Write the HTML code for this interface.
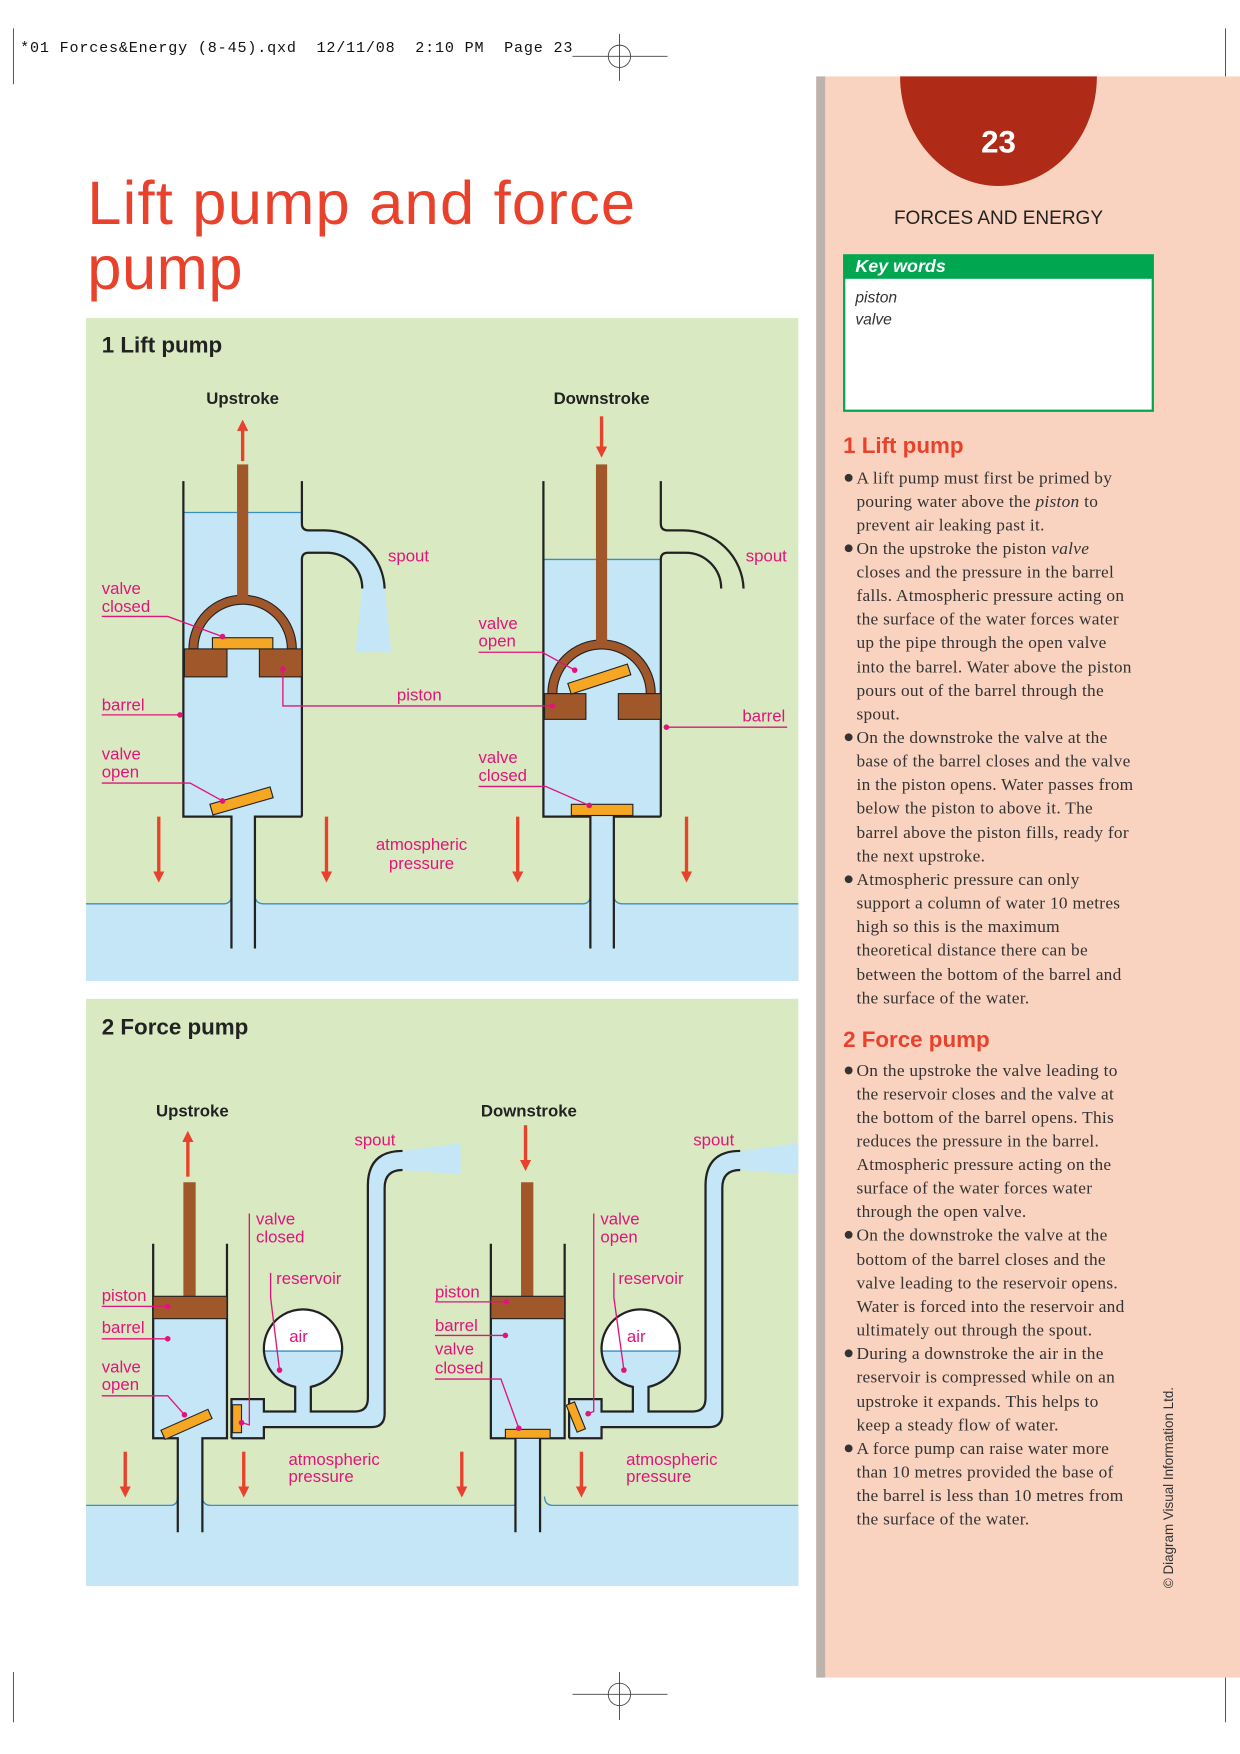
<!DOCTYPE html>
<html><head><meta charset="utf-8"><style>
html,body{margin:0;padding:0;background:#fff}
svg{display:block}
.lab{font-family:"Liberation Sans Narrow","Liberation Sans",sans-serif;font-size:15px;fill:#e0157a}
.hd{font-family:"Liberation Sans Narrow","Liberation Sans",sans-serif;font-size:15px;font-weight:bold;fill:#222}
.bt{font-family:"Liberation Serif",serif;font-size:15.5px;fill:#333;letter-spacing:0.25px}
</style></head><body>
<svg width="1240" height="1754" viewBox="0 0 1109 1568" xmlns="http://www.w3.org/2000/svg">
<defs>
<marker id="ah" markerWidth="10" markerHeight="10" refX="5" refY="5" orient="auto" markerUnits="userSpaceOnUse" viewBox="0 0 10 10"><path d="M0,0 L10,5 L0,10 z" fill="#e8412c"/></marker>
<clipPath id="p2"><rect x="77" y="893" width="637" height="525"/></clipPath>
</defs>
<text x="18" y="46" font-family="Liberation Mono,monospace" font-size="13.5" fill="#111" xml:space="preserve" style="white-space:pre" textLength="494" lengthAdjust="spacing">*01 Forces&amp;Energy (8-45).qxd  12/11/08  2:10 PM  Page 23</text>
<g stroke="#444" stroke-width="0.8" fill="none">
<line x1="12" y1="25" x2="12" y2="75"/><circle cx="554" cy="50" r="10"/><line x1="512" y1="50" x2="597" y2="50"/><line x1="554" y1="30" x2="554" y2="72"/>
<line x1="1096" y1="25" x2="1096" y2="75"/>
<line x1="12" y1="1495" x2="12" y2="1540"/><circle cx="554" cy="1515" r="10"/><line x1="512" y1="1515" x2="597" y2="1515"/><line x1="554" y1="1495" x2="554" y2="1538"/>
<line x1="1096" y1="1495" x2="1096" y2="1540"/>
</g>
<rect x="730" y="68" width="379" height="1432" fill="#f9d3bf"/>
<rect x="730" y="68" width="8" height="1432" fill="#bdb3ad"/>
<path d="M805,68 A88,98 0 0 0 981,68 Z" fill="#b02a18"/>
<text x="893" y="136" text-anchor="middle" font-family="Liberation Sans,sans-serif" font-weight="bold" font-size="28" fill="#fff">23</text>
<text x="893" y="200" text-anchor="middle" font-family="Liberation Sans Narrow,Liberation Sans,sans-serif" font-size="17" fill="#222">FORCES AND ENERGY</text>
<rect x="755" y="228" width="276" height="139" fill="#fff" stroke="#00a650" stroke-width="2"/>
<rect x="755" y="228" width="276" height="21" fill="#00a650"/>
<text x="765" y="243" font-family="Liberation Sans,sans-serif" font-style="italic" font-weight="bold" font-size="16" fill="#fff">Key words</text>
<text x="765" y="270" font-family="Liberation Sans,sans-serif" font-style="italic" font-size="14" fill="#333">piston</text>
<text x="765" y="290" font-family="Liberation Sans,sans-serif" font-style="italic" font-size="14" fill="#333">valve</text>
<text x="754" y="405" font-family="Liberation Sans,sans-serif" font-weight="bold" font-size="20" fill="#e8412c">1 Lift pump</text>
<g class="bt">
<text x="766" y="432">A lift pump must first be primed by</text>
<text x="766" y="453">pouring water above the <tspan font-style="italic">piston</tspan> to</text>
<text x="766" y="474">prevent air leaking past it.</text>
<text x="766" y="495">On the upstroke the piston <tspan font-style="italic">valve</tspan></text>
<text x="766" y="516">closes and the pressure in the barrel</text>
<text x="766" y="537">falls. Atmospheric pressure acting on</text>
<text x="766" y="558">the surface of the water forces water</text>
<text x="766" y="579">up the pipe through the open valve</text>
<text x="766" y="601">into the barrel. Water above the piston</text>
<text x="766" y="622">pours out of the barrel through the</text>
<text x="766" y="643">spout.</text>
<text x="766" y="664">On the downstroke the valve at the</text>
<text x="766" y="685">base of the barrel closes and the valve</text>
<text x="766" y="706">in the piston opens. Water passes from</text>
<text x="766" y="727">below the piston to above it. The</text>
<text x="766" y="749">barrel above the piston fills, ready for</text>
<text x="766" y="770">the next upstroke.</text>
<text x="766" y="791">Atmospheric pressure can only</text>
<text x="766" y="812">support a column of water 10 metres</text>
<text x="766" y="833">high so this is the maximum</text>
<text x="766" y="854">theoretical distance there can be</text>
<text x="766" y="876">between the bottom of the barrel and</text>
<text x="766" y="897">the surface of the water.</text>
<text x="766" y="962">On the upstroke the valve leading to</text>
<text x="766" y="983">the reservoir closes and the valve at</text>
<text x="766" y="1004">the bottom of the barrel opens. This</text>
<text x="766" y="1025">reduces the pressure in the barrel.</text>
<text x="766" y="1046">Atmospheric pressure acting on the</text>
<text x="766" y="1067">surface of the water forces water</text>
<text x="766" y="1088">through the open valve.</text>
<text x="766" y="1109">On the downstroke the valve at the</text>
<text x="766" y="1131">bottom of the barrel closes and the</text>
<text x="766" y="1152">valve leading to the reservoir opens.</text>
<text x="766" y="1173">Water is forced into the reservoir and</text>
<text x="766" y="1194">ultimately out through the spout.</text>
<text x="766" y="1215">During a downstroke the air in the</text>
<text x="766" y="1236">reservoir is compressed while on an</text>
<text x="766" y="1258">upstroke it expands. This helps to</text>
<text x="766" y="1279">keep a steady flow of water.</text>
<text x="766" y="1300">A force pump can raise water more</text>
<text x="766" y="1321">than 10 metres provided the base of</text>
<text x="766" y="1342">the barrel is less than 10 metres from</text>
<text x="766" y="1363">the surface of the water.</text>
</g>
<g fill="#333"><circle cx="759" cy="427" r="3.5"/><circle cx="759" cy="490" r="3.5"/><circle cx="759" cy="659" r="3.5"/><circle cx="759" cy="786" r="3.5"/><circle cx="759" cy="957" r="3.5"/><circle cx="759" cy="1104" r="3.5"/><circle cx="759" cy="1210" r="3.5"/><circle cx="759" cy="1295" r="3.5"/></g>
<text x="754" y="936" font-family="Liberation Sans,sans-serif" font-weight="bold" font-size="20" fill="#e8412c">2 Force pump</text>
<text transform="translate(1049,1420) rotate(-90)" font-family="Liberation Sans Narrow,Liberation Sans,sans-serif" font-size="12" fill="#333">© Diagram Visual Information Ltd.</text>

<text x="78" y="200" font-family="Liberation Sans,sans-serif" font-size="55" fill="#e8412c" textLength="490" lengthAdjust="spacing">Lift pump and force</text>
<text x="78" y="258" font-family="Liberation Sans,sans-serif" font-size="55" fill="#e8412c" textLength="139" lengthAdjust="spacing">pump</text>

<rect x="77" y="284" width="637" height="593" fill="#d9e9c2"/>
<rect x="77" y="808" width="637" height="69" fill="#c5e6f6"/>
<text x="91" y="315" font-family="Liberation Sans,sans-serif" font-weight="bold" font-size="20" fill="#222">1 Lift pump</text>
<text x="217" y="361" text-anchor="middle" class="hd">Upstroke</text>
<text x="538" y="361" text-anchor="middle" class="hd">Downstroke</text>
<path d="M77,808 H200 Q207,808 207,800 M228,800 Q228,808 236,808 H521 Q528,808 528,800 M549,800 Q549,808 557,808 H714" fill="none" stroke="#3a8fc0" stroke-width="1.2"/>
<rect x="164" y="458" width="106" height="272" fill="#c5e6f6"/>
<rect x="207" y="730" width="21" height="118" fill="#c5e6f6"/>
<path d="M270,474 H290 A54,54 0 0 1 344,526 L350,583 H318 L324,526 A32,32 0 0 0 292,494 H270 Z" fill="#c5e6f6"/>
<path d="M164,458 H270" stroke="#3a8fc0" stroke-width="1.2"/>
<g fill="none" stroke="#222" stroke-width="2">
<path d="M164,430 V730 H207 V848"/><path d="M270,430 V468 Q270,474 276,474 H290 A54,54 0 0 1 344,526"/>
<path d="M270,730 H228 V848"/><path d="M270,730 V500 Q270,494 276,494 H292 A32,32 0 0 1 324,526"/>
</g>
<path d="M169,580 A48,48 0 0 1 265,580 H257 A40,40 0 0 0 177,580 Z" fill="#a0582a" stroke="#222" stroke-width="1"/>
<rect x="212" y="415" width="10" height="120" fill="#a0582a"/>
<rect x="165" y="580" width="38" height="25" fill="#a0582a" stroke="#222"/>
<rect x="232" y="580" width="38" height="25" fill="#a0582a" stroke="#222"/>
<rect x="190" y="570" width="54" height="10" fill="#f5a623" stroke="#222"/>
<rect x="188" y="711" width="56" height="10" fill="#f5a623" stroke="#222" transform="rotate(-16 216 716)"/>
<rect x="486" y="500" width="105" height="230" fill="#c5e6f6"/>
<rect x="528" y="730" width="21" height="118" fill="#c5e6f6"/>
<path d="M486,500 H591" stroke="#3a8fc0" stroke-width="1.2"/>
<g fill="none" stroke="#222" stroke-width="2">
<path d="M486,430 V730 H528 V848"/><path d="M591,430 V468 Q591,474 597,474 H611 A54,54 0 0 1 665,526"/>
<path d="M591,730 H549 V848"/><path d="M591,730 V500 Q591,494 597,494 H613 A32,32 0 0 1 645,526"/>
</g>
<path d="M490,620 A48,48 0 0 1 586,620 H578 A40,40 0 0 0 498,620 Z" fill="#a0582a" stroke="#222" stroke-width="1"/>
<rect x="533" y="415" width="10" height="160" fill="#a0582a"/>
<rect x="487" y="620" width="37" height="23" fill="#a0582a" stroke="#222"/>
<rect x="553" y="620" width="38" height="23" fill="#a0582a" stroke="#222"/>
<rect x="508" y="602" width="56" height="10" fill="#f5a623" stroke="#222" transform="rotate(-18 536 607)"/>
<rect x="511" y="719" width="55" height="10" fill="#f5a623" stroke="#222"/>
<g stroke="#e8412c" stroke-width="3">
<line x1="217" y1="412" x2="217" y2="380" marker-end="url(#ah)"/>
<line x1="538" y1="372" x2="538" y2="404" marker-end="url(#ah)"/>
<line x1="142" y1="730" x2="142" y2="784" marker-end="url(#ah)"/>
<line x1="292" y1="730" x2="292" y2="784" marker-end="url(#ah)"/>
<line x1="463" y1="730" x2="463" y2="784" marker-end="url(#ah)"/>
<line x1="614" y1="730" x2="614" y2="784" marker-end="url(#ah)"/>
</g>
<g class="lab">
<text x="91" y="531">valve</text><text x="91" y="547">closed</text>
<text x="91" y="635">barrel</text>
<text x="91" y="679">valve</text><text x="91" y="695">open</text>
<text x="347" y="502">spout</text>
<text x="355" y="626">piston</text>
<text x="377" y="760" text-anchor="middle">atmospheric</text><text x="377" y="777" text-anchor="middle">pressure</text>
<text x="428" y="562">valve</text><text x="428" y="578">open</text>
<text x="428" y="682">valve</text><text x="428" y="698">closed</text>
<text x="667" y="502">spout</text>
<text x="664" y="645">barrel</text>
</g>
<g fill="none" stroke="#e0157a" stroke-width="1.2">
<path d="M91,551 H150 L199,569"/><path d="M91,639 H161"/><path d="M91,700 H170 L199,716"/>
<path d="M253,598 V631 H494"/><path d="M428,583 H485 L514,599"/><path d="M428,703 H488 L527,720"/>
<path d="M596,650 H704"/>
</g>
<g fill="#e0157a"><circle cx="199" cy="569" r="2.5"/><circle cx="161" cy="639" r="2.5"/><circle cx="199" cy="716" r="2.5"/><circle cx="253" cy="598" r="2.5"/><circle cx="494" cy="631" r="2.5"/><circle cx="514" cy="599" r="2.5"/><circle cx="527" cy="720" r="2.5"/><circle cx="596" cy="650" r="2.5"/></g>

<rect x="77" y="893" width="637" height="525" fill="#d9e9c2"/>
<rect x="77" y="1346" width="637" height="72" fill="#c5e6f6"/>
<text x="91" y="925" font-family="Liberation Sans,sans-serif" font-weight="bold" font-size="20" fill="#222">2 Force pump</text>
<text x="172" y="998" text-anchor="middle" class="hd">Upstroke</text>
<text x="473" y="998" text-anchor="middle" class="hd">Downstroke</text>
<path d="M77,1346 H152 Q159,1346 159,1338 M181,1338 Q181,1346 189,1346 H458 Q465,1346 465,1338 M487,1338 Q487,1346 495,1346 H714" fill="none" stroke="#3a8fc0" stroke-width="1.2"/>
<g clip-path="url(#p2)">
<g id="fp">
<rect x="137" y="1179" width="66" height="107" fill="#c5e6f6"/>
<rect x="159" y="1286" width="22" height="84" fill="#c5e6f6"/>
<rect x="207" y="1251" width="29" height="35" fill="#c5e6f6"/>
<path d="M236,1262 H318 Q329,1262 329,1250 V1060 Q329,1029 360,1029 V1046 Q344,1046 344,1062 V1264 Q344,1276 332,1276 H236 Z" fill="#c5e6f6"/>
<path d="M360,1029 L412,1022 V1050 L360,1046 Z" fill="#c5e6f6"/>
<circle cx="270" cy="1206" r="35" fill="#fff"/>
<path d="M235,1208 H305 A35,35 0 0 1 278,1240 V1262 H264 V1240 A35,35 0 0 1 235,1208 Z" fill="#c5e6f6"/>
<path d="M235,1208 H305" stroke="#3a8fc0" stroke-width="1.2"/>
<g fill="none" stroke="#222" stroke-width="2">
<path d="M137,1112 V1286 H159 V1370"/><path d="M203,1112 V1286 H181 V1370"/>
<path d="M207,1286 V1251 H236 V1262 H264 V1240 A35,35 0 1 1 278,1240 V1262 H318 Q329,1262 329,1250 V1060 Q329,1029 360,1029"/>
<path d="M207,1286 H236 V1276 H332 Q344,1276 344,1264 V1062 Q344,1046 360,1046"/>
</g>
<rect x="164" y="1057" width="11" height="104" fill="#a0582a"/>
<rect x="137" y="1159" width="66" height="20" fill="#a0582a" stroke="#222"/>
</g>
<use href="#fp" transform="translate(302,0)"/>
</g>
<rect x="144" y="1269" width="46" height="9" fill="#f5a623" stroke="#222" transform="rotate(-24 167 1274)"/>
<rect x="208" y="1256" width="8" height="25" fill="#f5a623" stroke="#222"/>
<rect x="452" y="1278" width="40" height="8" fill="#f5a623" stroke="#222"/>
<rect x="511" y="1254" width="8" height="26" fill="#f5a623" stroke="#222" transform="rotate(-22 515 1267)"/>
<g stroke="#e8412c" stroke-width="3">
<line x1="168" y1="1052" x2="168" y2="1016" marker-end="url(#ah)"/>
<line x1="470" y1="1006" x2="470" y2="1042" marker-end="url(#ah)"/>
<line x1="112" y1="1298" x2="112" y2="1334" marker-end="url(#ah)"/>
<line x1="218" y1="1298" x2="218" y2="1334" marker-end="url(#ah)"/>
<line x1="413" y1="1298" x2="413" y2="1334" marker-end="url(#ah)"/>
<line x1="520" y1="1298" x2="520" y2="1334" marker-end="url(#ah)"/>
</g>
<g class="lab">
<text x="91" y="1163">piston</text><text x="91" y="1192">barrel</text>
<text x="91" y="1227">valve</text><text x="91" y="1243">open</text>
<text x="229" y="1095">valve</text><text x="229" y="1111">closed</text>
<text x="247" y="1148">reservoir</text>
<text x="267" y="1200" text-anchor="middle">air</text>
<text x="317" y="1024">spout</text>
<text x="258" y="1310">atmospheric</text><text x="258" y="1325">pressure</text>
<text x="389" y="1160">piston</text><text x="389" y="1190">barrel</text>
<text x="389" y="1211">valve</text><text x="389" y="1228">closed</text>
<text x="537" y="1095">valve</text><text x="537" y="1111">open</text>
<text x="553" y="1148">reservoir</text>
<text x="569" y="1200" text-anchor="middle">air</text>
<text x="620" y="1024">spout</text>
<text x="560" y="1310">atmospheric</text><text x="560" y="1325">pressure</text>
</g>
<g fill="none" stroke="#e0157a" stroke-width="1.2">
<path d="M91,1168 H150"/><path d="M91,1197 H150"/><path d="M91,1248 H150 L165,1265"/>
<path d="M223,1085 V1274 L216,1272"/><path d="M242,1138 V1160 L250,1225"/>
<path d="M389,1164 H453"/><path d="M389,1194 H452"/><path d="M389,1233 H448 L464,1277"/>
<path d="M531,1085 V1262 L526,1264"/><path d="M549,1138 V1160 L558,1225"/>
</g>
<g fill="#e0157a"><circle cx="150" cy="1168" r="2.5"/><circle cx="150" cy="1197" r="2.5"/><circle cx="165" cy="1265" r="2.5"/><circle cx="216" cy="1272" r="2.5"/><circle cx="250" cy="1225" r="2.5"/><circle cx="453" cy="1164" r="2.5"/><circle cx="452" cy="1194" r="2.5"/><circle cx="464" cy="1277" r="2.5"/><circle cx="526" cy="1264" r="2.5"/><circle cx="558" cy="1225" r="2.5"/></g>
</svg>
</body></html>
